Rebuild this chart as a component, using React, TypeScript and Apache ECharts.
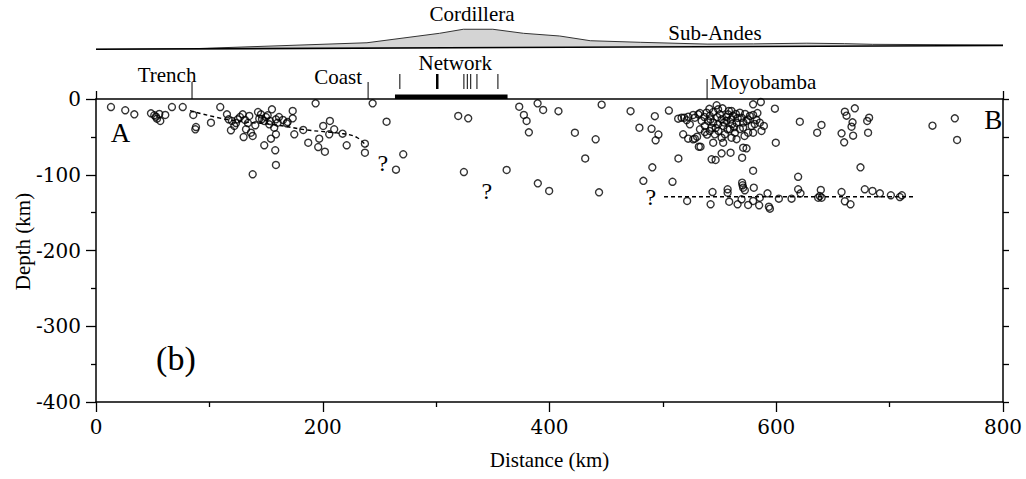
import React, { useEffect, useRef } from "react";
import * as echarts from "echarts";

// ---------- DATA ----------
// Hypocentres: [distance km, depth km]
const forearcEvents: number[][] = [
  [13.2, -10.6], [25.8, -14.9], [33.8, -20.2], [48.5, -18.9], [51.4, -21.5], [52.9, -23.4], [55.8, -19.8],
  [56.7, -29.0], [61.1, -21.1], [53.8, -26.0], [67.0, -10.6], [76.5, -10.6], [85.8, -21.1], [88.2, -37.0],
  [87.6, -40.0], [101.4, -31.3], [109.6, -10.6], [115.5, -20.2], [117.0, -26.8], [119.9, -29.0], [119.0, -41.3],
  [122.0, -35.6], [125.0, -26.8], [129.4, -20.2], [130.2, -50.2], [132.3, -40.0], [135.2, -22.4], [136.7, -44.5],
  [138.2, -48.8], [140.5, -34.7], [145.5, -20.2], [144.0, -26.0], [148.4, -29.0], [151.4, -21.5], [155.2, -13.6],
  [152.8, -33.4], [158.7, -26.8], [157.2, -37.9], [160.2, -31.3], [148.4, -61.1], [154.3, -52.4], [158.7, -46.6],
  [158.1, -67.7], [158.7, -87.1], [138.2, -99.4], [169.0, -30.4], [173.5, -15.8], [174.9, -46.6], [173.5, -25.5],
  [168.2, -32.1], [127.0, -23.8], [131.4, -27.7], [146.4, -26.4], [149.9, -23.8], [153.4, -29.0], [161.4, -23.8],
  [164.9, -27.7], [123.5, -31.7], [134.0, -31.7], [142.9, -17.2], [182.8, -40.9], [187.2, -57.7], [196.0, -63.4],
  [196.9, -52.4], [201.9, -69.6], [200.4, -35.6], [206.3, -29.0], [205.7, -46.6], [210.1, -40.0], [217.5, -45.8],
  [221.1, -61.1], [237.2, -59.0], [237.2, -70.9], [244.0, -5.7], [256.3, -30.0], [271.0, -73.0], [264.6, -93.3],
  [193.7, -5.7],
];
const centralEvents: number[][] = [
  [319.5, -22.4], [328.3, -25.5], [324.5, -96.4], [362.2, -93.7], [373.3, -10.2], [377.4, -21.1], [379.8, -29.0],
  [381.8, -44.0], [389.5, -5.7], [394.4, -14.5], [407.9, -16.1], [389.7, -111.3], [399.7, -121.4], [422.4, -44.5],
  [440.7, -53.2], [431.5, -78.5], [443.7, -123.2], [446.0, -7.5], [471.5, -16.1], [479.3, -37.9], [492.9, -22.7],
  [490.0, -39.3], [496.1, -46.9], [493.6, -54.5], [505.3, -15.2], [513.7, -78.5], [490.7, -90.2], [482.8, -108.0],
  [508.5, -109.3], [521.4, -134.6],
];
const moyobambaEvents: number[][] = [
  [513.5, -26.0], [516.5, -24.7], [518.8, -24.7], [522.3, -23.4], [526.7, -21.1], [523.8, -33.4], [517.9, -46.6],
  [522.3, -52.4], [528.2, -52.4], [531.7, -63.0], [528.2, -24.7], [531.3, -20.2], [538.5, -18.1], [541.4, -22.4],
  [539.9, -29.0], [537.0, -35.6], [541.4, -42.2], [545.8, -46.6], [548.7, -13.6], [550.3, -20.2], [551.8, -26.8],
  [548.7, -33.4], [553.2, -35.6], [556.1, -29.0], [557.5, -20.2], [560.5, -15.8], [562.0, -22.4], [559.1, -40.0],
  [565.0, -31.3], [567.9, -18.1], [569.4, -24.7], [570.8, -37.9], [573.8, -29.0], [575.2, -44.5], [576.7, -22.4],
  [563.5, -44.5], [554.7, -46.6], [544.4, -31.3], [543.0, -37.9], [534.2, -29.0], [532.7, -40.0], [547.4, -8.3],
  [552.6, -12.3], [579.6, -7.0], [586.4, -4.0], [598.8, -12.8], [579.6, -21.1], [582.6, -27.7], [585.5, -31.3],
  [589.1, -35.6], [587.0, -42.2], [579.6, -44.5], [599.6, -57.7], [570.8, -64.3], [573.8, -65.1], [569.9, -77.5],
  [559.7, -70.9], [551.8, -71.7], [543.0, -79.6], [546.5, -80.5], [533.2, -63.0], [526.7, -53.2], [530.2, -49.8],
  [544.4, -57.7], [553.2, -57.7], [560.5, -51.1], [551.8, -51.1], [536.6, -23.8], [544.4, -17.2], [556.1, -23.8],
  [564.4, -19.8], [572.5, -19.8], [561.2, -33.0], [546.6, -38.3], [567.9, -39.6], [537.0, -43.6], [558.2, -15.8],
  [578.3, -35.6], [572.0, -48.8], [583.4, -18.5], [532.7, -18.5], [542.0, -27.0], [548.0, -24.0], [554.0, -31.0],
  [560.0, -27.0], [566.0, -25.0], [571.0, -31.0], [549.0, -42.0], [557.0, -40.0], [563.0, -37.0], [575.0, -27.0],
  [581.0, -33.0], [539.0, -47.0], [565.0, -53.0], [541.0, -13.0], [521.0, -28.0],
];
const easternEvents: number[][] = [
  [620.8, -30.0], [639.9, -34.3], [636.1, -44.5], [660.5, -16.8], [669.3, -12.3], [662.0, -22.0], [667.3, -30.8],
  [666.4, -36.6], [657.6, -45.3], [667.8, -48.4], [659.9, -57.2], [681.9, -24.7], [680.2, -29.0], [681.0, -44.5],
  [737.8, -35.2], [757.5, -25.5], [759.5, -54.1], [674.3, -90.2], [619.3, -102.7], [579.6, -94.7],
];
const deepEvents: number[][] = [
  [543.8, -122.8], [557.1, -119.2], [557.1, -123.7], [569.9, -110.5], [570.3, -113.9], [570.8, -117.1],
  [572.3, -120.5], [580.2, -117.1], [592.3, -124.5], [619.3, -119.2], [621.4, -124.5], [639.3, -120.1],
  [638.4, -128.1], [657.6, -122.8], [678.1, -119.2], [684.9, -121.4], [691.4, -124.5], [701.1, -127.1],
  [709.0, -129.4], [710.8, -127.1], [542.1, -139.0], [558.5, -135.6], [565.9, -139.0], [569.4, -132.4],
  [575.2, -139.9], [579.6, -134.6], [585.5, -130.3], [584.9, -140.3], [593.5, -142.2], [594.4, -144.8],
  [602.3, -131.6], [613.5, -131.6], [637.0, -130.3], [640.0, -130.3], [660.5, -135.0], [665.5, -139.0],
];

// interpreted slab traces (dashed)
const slabTraceKm = [82.9, 118, 159, 186, 215, 230, 239];
const slabTraceDepth = [-15.4, -27.7, -34.3, -40.9, -45.3, -50.6, -63];
const flatSlabKm = [501, 722];
const flatSlabDepth = [-129, -129];

// topography (km along profile, relative elevation km)
const topoKm = [0, 83, 239, 303, 324, 350, 377, 409, 436, 480, 539, 580, 627, 660, 685, 800];
const topoElev = [0.04, 0.15, 1.5, 3.6, 4.5, 4.5, 3.6, 3.0, 1.95, 1.6, 1.2, 1.25, 1.4, 1.3, 1.15, 1.0];
const baseKm = [0, 800];
const baseElev = [0.04, 0.9];
const regionNames = ["Cordillera", "Sub-Andes"];
const regionKm = [331.6, 545.9];
const regionElev = [7.9, 3.67];

// surface landmarks
const landmarkNames = ["Trench", "Coast", "Moyobamba"];
const landmarkKm = [84.7, 240, 539];
const networkStationsKm = [268, 301, 324.5, 327.5, 330.5, 336, 354.5];
const networkSpanKm = [263.7, 363];

// section annotations
const sectionLabels = ["A", "B", "(b)", "?", "?", "?"];
const sectionLabelKm = [21.6, 791.4, 70.5, 253, 344.8, 489.4];
const sectionLabelDepth = [-45, -28, -343, -84, -121, -129];

const xTicks = [0, 200, 400, 600, 800];
const yTicks = [0, -100, -200, -300, -400];

// ---------- STYLE ----------
const SERIF = "Liberation Serif";
const TICK_FONT = "DejaVu Serif";
const landmarkStyle = [
  { len: 17, dx: -25, dy: -24, align: "center" },
  { len: 17, dx: -6, dy: -22, align: "right" },
  { len: 20, dx: 3, dy: -17, align: "left" },
];
const sectionFont = [27, 27, 34, 24, 24, 24];

export default function App() {
  const ref = useRef<HTMLDivElement>(null);
  useEffect(() => {
    if (!ref.current) return;
    const chart = echarts.init(ref.current, undefined, { renderer: "svg" });
    const events = [...forearcEvents, ...centralEvents, ...moyobambaEvents, ...easternEvents, ...deepEvents];
    const axisLine = { show: true, onZero: false, lineStyle: { color: "#000", width: 1.5 } };
    const tickLabelStyle = { fontFamily: TICK_FONT, fontSize: 20, color: "#000" };
    const nameStyle = { fontFamily: SERIF, fontSize: 21, color: "#000" };

    const option: any = {
      animation: false,
      backgroundColor: "#fff",
      grid: [
        { left: 96, right: 23, top: 99, bottom: 77, containLabel: false, outerBoundsMode: "none" },
        { left: 96, right: 23, top: 27, height: 27, containLabel: false, outerBoundsMode: "none" },
      ],
      xAxis: [
        {
          gridIndex: 0, type: "value", min: xTicks[0], max: xTicks[xTicks.length - 1], interval: 200,
          position: "bottom", axisLine,
          axisTick: { show: true, length: 10, lineStyle: { color: "#000", width: 1.3 } },
          minorTick: { show: true, splitNumber: 2, length: 5, lineStyle: { color: "#000", width: 1.3 } },
          splitLine: { show: false }, minorSplitLine: { show: false },
          axisLabel: { ...tickLabelStyle, margin: 15 },
          name: "Distance (km)", nameLocation: "middle", nameGap: 47, nameMoveOverlap: false,
          nameTextStyle: { ...nameStyle },
        },
        {
          gridIndex: 0, type: "value", min: 0, max: 800, interval: 800, position: "top", axisLine,
          axisTick: { show: true, length: 8, lineStyle: { color: "#000", width: 1.3 } },
          axisLabel: { show: false }, splitLine: { show: false },
        },
        { gridIndex: 1, type: "value", min: 0, max: 800, show: false },
      ],
      yAxis: [
        {
          gridIndex: 0, type: "value", min: yTicks[yTicks.length - 1], max: yTicks[0], interval: 100,
          position: "left", axisLine,
          axisTick: { show: true, length: 10, lineStyle: { color: "#000", width: 1.3 } },
          minorTick: { show: true, splitNumber: 2, length: 5, lineStyle: { color: "#000", width: 1.3 } },
          splitLine: { show: false }, minorSplitLine: { show: false },
          axisLabel: { ...tickLabelStyle, margin: 15 },
          name: "Depth (km)", nameLocation: "middle", nameGap: 63, nameRotate: 90, nameMoveOverlap: false,
          nameTextStyle: { ...nameStyle, padding: [0, 0, 0, 18] },
        },
        {
          gridIndex: 0, type: "value", min: -400, max: 0, interval: 50, position: "right", axisLine,
          axisTick: { show: true, length: 6, lineStyle: { color: "#000", width: 1.3 } },
          axisLabel: { show: false }, splitLine: { show: false },
        },
        { gridIndex: 1, type: "value", min: -1, max: 5, show: false },
      ],
      series: [
        {
          type: "line", xAxisIndex: 2, yAxisIndex: 2, z: 1,
          data: topoKm.map((k, i) => [k, topoElev[i]]),
          showSymbol: false, symbol: "none",
          lineStyle: { color: "#333", width: 1 },
          areaStyle: { color: "#d4d4d4", opacity: 1, origin: "start" },
        },
        {
          type: "line", xAxisIndex: 2, yAxisIndex: 2, z: 2,
          data: baseKm.map((k, i) => [k, baseElev[i]]),
          showSymbol: false, symbol: "none",
          lineStyle: { color: "#000", width: 1.6 },
          areaStyle: { color: "#fff", opacity: 1, origin: "start" },
        },
        {
          type: "custom", xAxisIndex: 2, yAxisIndex: 2, clip: false, z: 3,
          data: regionKm.map((k, i) => [k, regionElev[i], i]),
          renderItem: (params: any, api: any) => {
            const p = api.coord([api.value(0), api.value(1)]);
            const i = api.value(2);
            return {
              type: "text", x: p[0], y: p[1],
              style: {
                text: regionNames[i], fill: "#000", fontFamily: SERIF, fontSize: 21,
                textAlign: "center", align: "center", textVerticalAlign: "middle", verticalAlign: "middle",
              },
            };
          },
        },
        {
          type: "scatter", xAxisIndex: 0, yAxisIndex: 0, z: 4,
          data: events, symbol: "circle", symbolSize: 7,
          itemStyle: { color: "rgba(0,0,0,0)", borderColor: "#000", borderWidth: 1.4 },
        },
        {
          type: "line", xAxisIndex: 0, yAxisIndex: 0, z: 5, smooth: 0.4,
          data: slabTraceKm.map((k, i) => [k, slabTraceDepth[i]]),
          showSymbol: false, symbol: "none",
          lineStyle: { color: "#000", width: 1.4, type: [4, 3] },
        },
        {
          type: "line", xAxisIndex: 0, yAxisIndex: 0, z: 5,
          data: flatSlabKm.map((k, i) => [k, flatSlabDepth[i]]),
          showSymbol: false, symbol: "none",
          lineStyle: { color: "#000", width: 1.4, type: [4, 3] },
        },
        {
          type: "custom", xAxisIndex: 0, yAxisIndex: 0, clip: false, z: 6,
          data: landmarkKm.map((k, i) => [k, 0, i]),
          renderItem: (params: any, api: any) => {
            const p = api.coord([api.value(0), 0]);
            const i = api.value(2);
            const st = landmarkStyle[i];
            return {
              type: "group",
              children: [
                { type: "line", shape: { x1: p[0], y1: p[1], x2: p[0], y2: p[1] - st.len }, style: { stroke: "#000", lineWidth: 1 } },
                {
                  type: "text", x: p[0] + st.dx, y: p[1] + st.dy,
                  style: {
                    text: landmarkNames[i], fill: "#000", fontFamily: SERIF, fontSize: 21,
                    textAlign: st.align, align: st.align, textVerticalAlign: "middle", verticalAlign: "middle",
                  },
                },
              ],
            };
          },
        },
        {
          type: "custom", xAxisIndex: 0, yAxisIndex: 0, clip: false, z: 6,
          data: [[networkSpanKm[0], networkSpanKm[1]]],
          renderItem: (params: any, api: any) => {
            const a = api.coord([api.value(0), 0]);
            const b = api.coord([api.value(1), 0]);
            const ticks = networkStationsKm.map((k, j) => {
              const q = api.coord([k, 0]);
              return {
                type: "line",
                shape: { x1: q[0], y1: q[1] - 10, x2: q[0], y2: q[1] - 25 },
                style: { stroke: "#000", lineWidth: j === 1 ? 2.5 : 1 },
              };
            });
            return {
              type: "group",
              children: [
                { type: "rect", shape: { x: a[0], y: a[1] - 4.5, width: b[0] - a[0], height: 4.5 }, style: { fill: "#000" } },
                ...ticks,
                {
                  type: "text", x: (a[0] + b[0]) / 2 + 4, y: a[1] - 36,
                  style: {
                    text: "Network", fill: "#000", fontFamily: SERIF, fontSize: 21,
                    textAlign: "center", align: "center", textVerticalAlign: "middle", verticalAlign: "middle",
                  },
                },
              ],
            };
          },
        },
        {
          type: "custom", xAxisIndex: 0, yAxisIndex: 0, clip: false, z: 6,
          data: sectionLabelKm.map((k, i) => [k, sectionLabelDepth[i], i]),
          renderItem: (params: any, api: any) => {
            const p = api.coord([api.value(0), api.value(1)]);
            const i = api.value(2);
            return {
              type: "text", x: p[0], y: p[1],
              style: {
                text: sectionLabels[i], fill: "#000", fontFamily: SERIF, fontSize: sectionFont[i],
                textAlign: "center", align: "center", textVerticalAlign: "middle", verticalAlign: "middle",
              },
            };
          },
        },
      ],
    };
    chart.setOption(option);
    return () => chart.dispose();
  }, []);
  return <div ref={ref} style={{ position: "fixed", left: 0, top: 0, width: "1026px", height: "479px" }} />;
}
